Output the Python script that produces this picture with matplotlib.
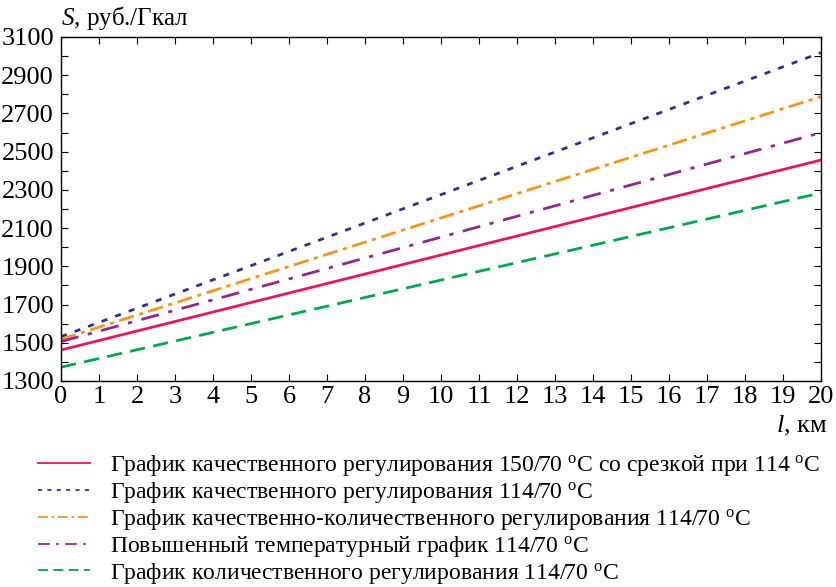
import numpy as np
import matplotlib
matplotlib.use("Agg")
from matplotlib import pyplot as plt
from matplotlib.ticker import MultipleLocator

plt.rcParams['font.family'] = ['Liberation Serif', 'DejaVu Serif']
plt.rcParams['mathtext.fontset'] = 'custom'
plt.rcParams['mathtext.rm'] = 'Liberation Serif'
plt.rcParams['mathtext.it'] = 'Liberation Serif:italic'

# distance, km (lines are straight, so endpoints are enough)
l_km = [0, 20]
# S, rub/Gcal
s_quality_cut = [1462, 2456]
s_quality = [1532, 3018]
s_quality_quantity = [1518, 2788]
s_raised = [1506, 2599]
s_quantity = [1372, 2284]

y_ticks = list(range(1300, 3101, 200))

labels = [
    "График качественного регулирования 150/70 $^{\\rm o}$C со срезкой при 114 $^{\\rm o}$C",
    "График качественного регулирования 114/70 $^{\\rm o}$C",
    "График качественно-количественного регулирования 114/70 $^{\\rm o}$C",
    "Повышенный температурный график 114/70 $^{\\rm o}$C",
    "График количественного регулирования 114/70 $^{\\rm o}$C",
]

fig = plt.figure(figsize=(8.36, 5.87), dpi=100)
ax = fig.add_axes([0.073, 0.351, 0.909, 0.586])

lw = 2.0
ax.plot(l_km, s_quality_cut, color='#E8175D', lw=lw, label=labels[0])
ax.plot(l_km, s_quality, color='#2E3192', lw=lw, dashes=(2.2, 3.0), label=labels[1])
ax.plot(l_km, s_quality_quantity, color='#F7941D', lw=lw, dashes=(5.5, 2.0, 1.5, 2.0), label=labels[2])
ax.plot(l_km, s_raised, color='#93278F', lw=lw, dashes=(6.5, 3.5, 1.5, 3.5), label=labels[3])
ax.plot(l_km, s_quantity, color='#00A651', lw=lw, dashes=(5.5, 3.0), label=labels[4])

ax.set_xlim(0, 20)
ax.set_ylim(1300, 3100)
ax.xaxis.set_major_locator(MultipleLocator(1))
ax.set_yticks(y_ticks)
ax.yaxis.set_minor_locator(MultipleLocator(100))
ax.tick_params(which='both', direction='in', top=True, right=True, labelsize=19)
ax.tick_params(axis='y', pad=5)
ax.tick_params(which='major', length=5, width=0.8)
ax.tick_params(which='minor', length=5, width=0.8)
for sp in ax.spines.values():
    sp.set_linewidth(1.0)

ax.text(0.0, 1.015, "$S$, руб./Гкал", transform=ax.transAxes, fontsize=18,
        ha='left', va='bottom')
ax.text(1.008, -0.095, "$l$, км", transform=ax.transAxes, fontsize=19,
        ha='right', va='top')

leg = fig.legend(loc='upper left', bbox_to_anchor=(0.045, 0.228), frameon=False,
                 fontsize=17, handlelength=2.2, handletextpad=0.85,
                 labelspacing=0.08, borderaxespad=0, borderpad=0)
for h in leg.get_lines():
    h.set_linewidth(1.3)

fig.savefig("out.png", dpi=100)
